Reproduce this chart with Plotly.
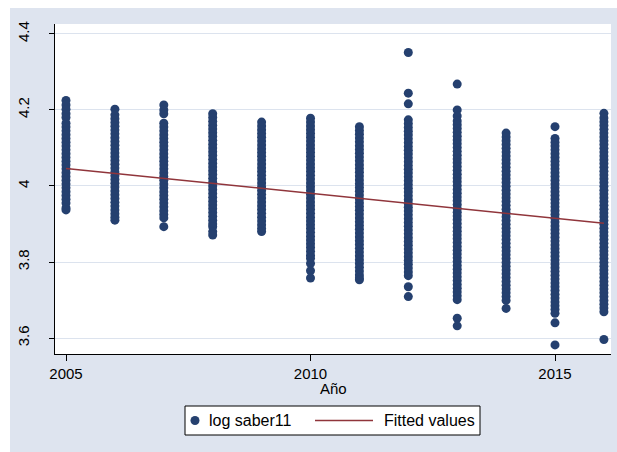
import plotly.graph_objects as go

years = [2005, 2006, 2007, 2008, 2009, 2010, 2011, 2012, 2013, 2014, 2015, 2016]

v2005 = [4.225, 4.213, 4.202, 4.19, 4.18, 4.165, 4.155, 4.145, 4.135, 4.125, 4.115, 4.105, 4.095,
         4.085, 4.075, 4.065, 4.055, 4.045, 4.035, 4.025, 4.015, 4.005, 3.995, 3.985, 3.975, 3.965,
         3.955, 3.942, 3.937]
v2006 = [4.202, 4.187, 4.177, 4.167, 4.157, 4.147, 4.137, 4.127, 4.117, 4.107, 4.097, 4.087, 4.077,
         4.067, 4.057, 4.047, 4.037, 4.027, 4.017, 4.007, 3.997, 3.987, 3.977, 3.967, 3.957, 3.947,
         3.937, 3.927, 3.918, 3.91]
v2007 = [4.213, 4.2, 4.19, 4.165, 4.155, 4.145, 4.135, 4.125, 4.115, 4.105, 4.095, 4.085, 4.075,
         4.065, 4.055, 4.045, 4.035, 4.025, 4.015, 4.005, 3.995, 3.985, 3.975, 3.965, 3.955, 3.945,
         3.935, 3.925, 3.916, 3.893]
v2008 = [4.19, 4.18, 4.17, 4.16, 4.15, 4.14, 4.13, 4.12, 4.11, 4.1, 4.09, 4.08, 4.07, 4.06, 4.05,
         4.04, 4.03, 4.02, 4.01, 4.0, 3.99, 3.98, 3.97, 3.96, 3.95, 3.94, 3.93, 3.92, 3.91, 3.9,
         3.893, 3.88, 3.871]
v2009 = [4.168, 4.158, 4.148, 4.138, 4.128, 4.118, 4.108, 4.098, 4.088, 4.078, 4.068, 4.058, 4.048,
         4.038, 4.028, 4.018, 4.008, 3.998, 3.988, 3.978, 3.968, 3.958, 3.948, 3.938, 3.928, 3.918,
         3.908, 3.898, 3.888, 3.88]
v2010 = [4.178, 4.168, 4.158, 4.148, 4.138, 4.128, 4.118, 4.108, 4.098, 4.088, 4.078, 4.068, 4.058,
         4.048, 4.038, 4.028, 4.018, 4.008, 3.998, 3.988, 3.978, 3.968, 3.958, 3.948, 3.938, 3.928,
         3.918, 3.908, 3.898, 3.888, 3.878, 3.868, 3.858, 3.848, 3.838, 3.828, 3.818, 3.81, 3.796,
         3.777, 3.758]
v2011 = [4.156, 4.146, 4.136, 4.126, 4.116, 4.106, 4.096, 4.086, 4.076, 4.066, 4.056, 4.046, 4.036,
         4.026, 4.016, 4.006, 3.996, 3.986, 3.976, 3.966, 3.956, 3.946, 3.936, 3.926, 3.916, 3.906,
         3.896, 3.886, 3.876, 3.866, 3.856, 3.846, 3.836, 3.826, 3.816, 3.806, 3.796, 3.786, 3.776,
         3.766, 3.758, 3.753]
v2012 = [4.351, 4.244, 4.216, 4.174, 4.164, 4.154, 4.144, 4.134, 4.124, 4.114, 4.104, 4.094, 4.084,
         4.074, 4.064, 4.054, 4.044, 4.034, 4.024, 4.014, 4.004, 3.994, 3.984, 3.974, 3.964, 3.954,
         3.944, 3.934, 3.924, 3.914, 3.904, 3.894, 3.884, 3.874, 3.864, 3.854, 3.844, 3.834, 3.824,
         3.814, 3.804, 3.794, 3.784, 3.774, 3.764, 3.735, 3.709]
v2013 = [4.268, 4.2, 4.184, 4.171, 4.161, 4.151, 4.141, 4.131, 4.121, 4.111, 4.101, 4.091, 4.081,
         4.071, 4.061, 4.051, 4.041, 4.031, 4.021, 4.011, 4.001, 3.991, 3.981, 3.971, 3.961, 3.951,
         3.941, 3.931, 3.921, 3.911, 3.901, 3.891, 3.881, 3.871, 3.861, 3.851, 3.841, 3.831, 3.821,
         3.811, 3.801, 3.791, 3.781, 3.771, 3.761, 3.751, 3.741, 3.731, 3.721, 3.711, 3.701, 3.652,
         3.632]
v2014 = [4.139, 4.129, 4.119, 4.109, 4.099, 4.089, 4.079, 4.069, 4.059, 4.049, 4.039, 4.029, 4.019,
         4.009, 3.999, 3.989, 3.979, 3.969, 3.959, 3.949, 3.939, 3.929, 3.919, 3.909, 3.899, 3.889,
         3.879, 3.869, 3.859, 3.849, 3.839, 3.829, 3.819, 3.809, 3.799, 3.789, 3.779, 3.769, 3.759,
         3.749, 3.739, 3.729, 3.719, 3.709, 3.699, 3.678]
v2015 = [4.156, 4.125, 4.115, 4.105, 4.095, 4.085, 4.075, 4.065, 4.055, 4.045, 4.035, 4.025, 4.015,
         4.005, 3.995, 3.985, 3.975, 3.965, 3.955, 3.945, 3.935, 3.925, 3.915, 3.905, 3.895, 3.885,
         3.875, 3.865, 3.855, 3.845, 3.835, 3.825, 3.815, 3.805, 3.795, 3.785, 3.775, 3.765, 3.755,
         3.745, 3.735, 3.725, 3.715, 3.705, 3.695, 3.685, 3.675, 3.665, 3.64, 3.582]
v2016 = [4.191, 4.179, 4.169, 4.159, 4.149, 4.139, 4.129, 4.119, 4.109, 4.099, 4.089, 4.079, 4.069,
         4.059, 4.049, 4.039, 4.029, 4.019, 4.009, 3.999, 3.989, 3.979, 3.969, 3.959, 3.949, 3.939,
         3.929, 3.919, 3.909, 3.899, 3.889, 3.879, 3.869, 3.859, 3.849, 3.839, 3.829, 3.819, 3.809,
         3.799, 3.789, 3.779, 3.769, 3.759, 3.749, 3.739, 3.729, 3.719, 3.709, 3.699, 3.689, 3.679,
         3.669, 3.596]

values_by_year = [v2005, v2006, v2007, v2008, v2009, v2010, v2011, v2012, v2013, v2014, v2015, v2016]

fit_years = [2005, 2016]
fit_values = [4.046, 3.902]

x_ticks = [2005, 2010, 2015]
y_ticks = [3.6, 3.8, 4.0, 4.2, 4.4]
y_tick_text = ["3.6", "3.8", "4", "4.2", "4.4"]

series_names = ["log saber11", "Fitted values"]
x_title = "Año"

NAVY = "#25406f"
MAROON = "#90353b"
BG = "#dee4ef"
GRID = "#dce3ee"
FONT = "Liberation Sans, Arial, sans-serif"

xs, ys = [], []
for yr, vals in zip(years, values_by_year):
    xs.extend([yr] * len(vals))
    ys.extend(vals)

fig = go.Figure()
fig.add_trace(go.Scatter(
    x=xs, y=ys, mode="markers", name=series_names[0],
    marker=dict(color=NAVY, size=9, line=dict(width=0)),
))
fig.add_trace(go.Scatter(
    x=fit_years, y=fit_values, mode="lines", name=series_names[1],
    line=dict(color=MAROON, width=1.5),
))

W, H = 617, 452
L, R, T, B = 55, 6, 24, 98
pw, ph = W - L - R, H - T - B


def px_x(px):
    return (px - L) / pw


def px_y(py):
    return (H - B - py) / ph


# legend geometry (pixels)
LG_X0, LG_X1, LG_Y0, LG_Y1 = 185, 480, 406, 435
LG_YC = (LG_Y0 + LG_Y1) / 2

shapes = [
    # white outer margins (left and top)
    dict(type="rect", xref="paper", yref="paper", layer="below",
         x0=px_x(0), x1=px_x(10), y0=px_y(H), y1=px_y(0),
         fillcolor="white", line=dict(width=0)),
    dict(type="rect", xref="paper", yref="paper", layer="below",
         x0=px_x(0), x1=px_x(W), y0=px_y(8), y1=px_y(0),
         fillcolor="white", line=dict(width=0)),
    # legend box
    dict(type="rect", xref="paper", yref="paper", layer="above",
         x0=px_x(LG_X0), x1=px_x(LG_X1), y0=px_y(LG_Y1), y1=px_y(LG_Y0),
         fillcolor="white", line=dict(color="black", width=1)),
    # legend marker
    dict(type="circle", xref="paper", yref="paper", layer="above",
         x0=px_x(195 - 4.5), x1=px_x(195 + 4.5),
         y0=px_y(LG_YC + 4.5), y1=px_y(LG_YC - 4.5),
         fillcolor=NAVY, line=dict(width=0)),
    # legend line
    dict(type="line", xref="paper", yref="paper", layer="above",
         x0=px_x(315), x1=px_x(373), y0=px_y(LG_YC), y1=px_y(LG_YC),
         line=dict(color=MAROON, width=1.5)),
]

annotations = [
    dict(xref="paper", yref="paper", x=px_x(207), y=px_y(LG_YC),
         xanchor="left", yanchor="middle", showarrow=False,
         text=series_names[0], font=dict(size=16, color="black")),
    dict(xref="paper", yref="paper", x=px_x(382), y=px_y(LG_YC),
         xanchor="left", yanchor="middle", showarrow=False,
         text=series_names[1], font=dict(size=16, color="black")),
    dict(xref="paper", yref="paper", x=0.5, y=px_y(388),
         xanchor="center", yanchor="middle", showarrow=False,
         text=x_title, font=dict(size=15, color="black")),
]

fig.update_layout(
    width=W, height=H,
    margin=dict(l=L, r=R, t=T, b=B, autoexpand=False),
    paper_bgcolor=BG, plot_bgcolor="white",
    font=dict(family=FONT, size=15, color="black"),
    showlegend=False,
    shapes=shapes,
    annotations=annotations,
)

fig.update_xaxes(
    range=[2004.775, 2016.145], tickvals=x_ticks, ticks="outside", ticklen=6,
    tickcolor="black", showline=True, linecolor="black", linewidth=1,
    showgrid=False, zeroline=False,
)
fig.update_yaxes(
    range=[3.558, 4.426], tickvals=y_ticks, ticktext=y_tick_text, ticks="outside",
    ticklen=5, tickcolor="black", tickangle=-90, ticklabelstandoff=14,
    showline=True, linecolor="black", linewidth=1,
    showgrid=True, gridcolor=GRID, gridwidth=1, zeroline=False,
)

fig.write_html("out.html", config={"displayModeBar": False},
               post_script="document.body.style.margin='0';")
